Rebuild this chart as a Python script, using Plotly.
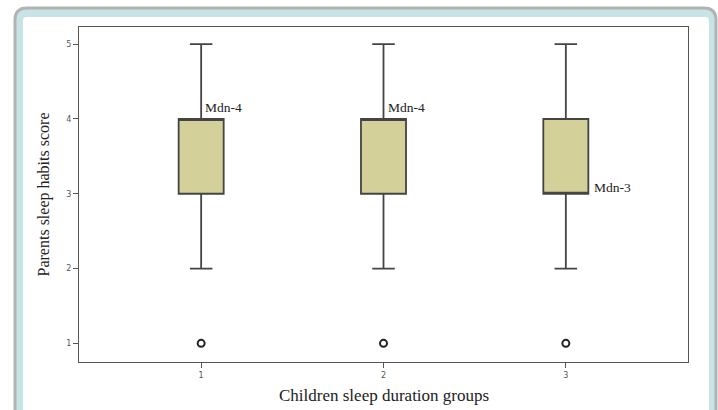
import plotly.graph_objects as go

groups = [1, 2, 3]
tick_labels = ["1", "2", "3"]
q1 = [3, 3, 3]
medians = [4, 4, 3]
q3 = [4, 4, 4]
lower_whisker = [2, 2, 2]
upper_whisker = [5, 5, 5]
outliers = [1, 1, 1]
median_labels = ["Mdn-4", "Mdn-4", "Mdn-3"]
x_title = "Children sleep duration groups"
y_title = "Parents sleep habits score"

W, H = 718, 410
L, R, T, B = 79, 688, 27, 362

def px(x):
    return (x - L) / (R - L)

def py(y):
    return (B - y) / (B - T)

def rrect(x0, y0, x1, y1, r):
    # rounded top corners, open past bottom
    return (f"M {px(x0)},{py(y1)} L {px(x0)},{py(y0 + r)} "
            f"Q {px(x0)},{py(y0)} {px(x0 + r)},{py(y0)} "
            f"L {px(x1 - r)},{py(y0)} "
            f"Q {px(x1)},{py(y0)} {px(x1)},{py(y0 + r)} "
            f"L {px(x1)},{py(y1)} Z")

fig = go.Figure()
for g, a, m, b, lo, hi in zip(groups, q1, medians, q3, lower_whisker, upper_whisker):
    fig.add_trace(go.Box(
        x=[g], q1=[a], median=[m], q3=[b], lowerfence=[lo], upperfence=[hi],
        width=0.247, whiskerwidth=0.5, boxpoints=False,
        fillcolor="#d4d09a", line=dict(color="#444444", width=1.8),
        showlegend=False, hoverinfo="skip",
    ))

fig.add_trace(go.Scatter(
    x=groups, y=outliers, mode="markers",
    marker=dict(symbol="circle-open", size=7, color="#222", line=dict(width=2)),
    showlegend=False, hoverinfo="skip",
))

for g, m, lab in zip(groups, medians, median_labels):
    if m == 4:
        fig.add_annotation(x=g + 0.012, y=m + 0.15, text=lab, showarrow=False,
                           xanchor="left", yanchor="middle",
                           font=dict(family="Liberation Serif", size=13.5, color="#222"))
    else:
        fig.add_annotation(x=g + 0.145, y=m + 0.09, text=lab, showarrow=False,
                           xanchor="left", yanchor="middle",
                           font=dict(family="Liberation Serif", size=13.5, color="#222"))

fig.add_annotation(xref="paper", yref="paper", x=0.5, y=py(395), text=x_title,
                   showarrow=False, xanchor="center", yanchor="middle",
                   font=dict(family="Liberation Serif", size=17, color="#222"))

shapes = [
    dict(type="path", xref="paper", yref="paper", path=rrect(15, 8, 716, 430, 12),
         fillcolor="#c8e3e6", line=dict(color="#b3b3b3", width=3), layer="below"),
    dict(type="path", xref="paper", yref="paper", path=rrect(23, 17, 709, 430, 4),
         fillcolor="white", line=dict(width=0), layer="below"),
]

fig.update_layout(
    width=W, height=H,
    margin=dict(l=L, r=W - R, t=T, b=H - B),
    paper_bgcolor="white", plot_bgcolor="#efefef",
    shapes=shapes,
    xaxis=dict(range=[0.33, 3.67], tickvals=groups, ticktext=tick_labels,
               showgrid=False, zeroline=False, showline=True, mirror=True,
               linecolor="#555", linewidth=1.2, ticks="outside", ticklen=5,
               tickcolor="#555", automargin=False,
               tickfont=dict(family="DejaVu Sans", size=8, color="#555")),
    yaxis=dict(range=[0.75, 5.23], tickvals=[1, 2, 3, 4, 5],
               showgrid=False, zeroline=False, showline=True, mirror=True,
               linecolor="#555", linewidth=1.2, ticks="outside", ticklen=5,
               tickcolor="#555", automargin=False,
               tickfont=dict(family="DejaVu Sans", size=8, color="#555"),
               title=dict(text=y_title, standoff=12,
                          font=dict(family="Liberation Serif", size=16, color="#222"))),
)

fig.write_html("out.html", config={"displayModeBar": False},
               post_script="document.body.style.margin='0';")
